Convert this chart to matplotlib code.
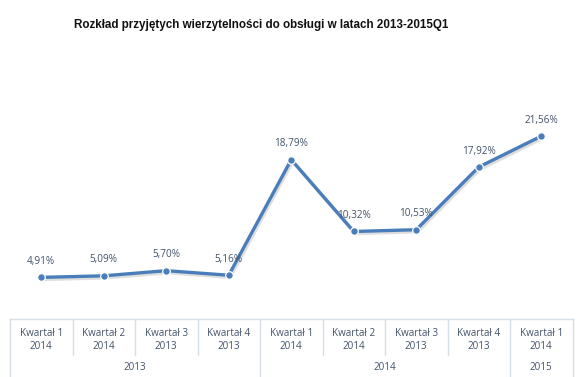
import matplotlib
matplotlib.use("Agg")
import matplotlib.pyplot as plt
import matplotlib.transforms as mtransforms
import matplotlib.patheffects as pe

title = "Rozkład przyjętych wierzytelności do obsługi w latach 2013-2015Q1"
quarters = ["Kwartał 1", "Kwartał 2", "Kwartał 3", "Kwartał 4",
            "Kwartał 1", "Kwartał 2", "Kwartał 3", "Kwartał 4", "Kwartał 1"]
sub_years = ["2014", "2014", "2013", "2013", "2014", "2014", "2013", "2013", "2014"]
groups = ["2013", "2014", "2015"]
group_sizes = [4, 4, 1]
values = [4.91, 5.09, 5.70, 5.16, 18.79, 10.32, 10.53, 17.92, 21.56]
labels = ["4,91%", "5,09%", "5,70%", "5,16%", "18,79%", "10,32%", "10,53%", "17,92%", "21,56%"]

W, H = 580, 377
fig = plt.figure(figsize=(W / 100, H / 100), dpi=100)
fig.patch.set_facecolor("white")
ax = fig.add_axes([10 / W, (H - 319) / H, 562.5 / W, (319 - 107) / H])
ax.set_xlim(-0.5, len(values) - 0.5)
ax.set_ylim(0, 25)
ax.axis("off")

line_col = "#4a7ebb"
x = list(range(len(values)))
ax.plot(x, values, color=line_col, lw=2.4, solid_joinstyle="round",
        path_effects=[pe.SimpleLineShadow(offset=(1, -1.5), alpha=0.25, shadow_color="#7f7f7f"), pe.Normal()],
        zorder=3)
ax.plot(x, values, linestyle="none", marker="o", ms=5.5, mfc=line_col, mec="white", mew=0.9, zorder=4)

txt_col = "#44546a"
for xi, v, lab in zip(x, values, labels):
    ax.annotate(lab, (xi, v), xytext=(0, 7.5), textcoords="offset points",
                ha="center", va="bottom", fontsize=7.2, color=txt_col, family="Open Sans")

fig.text(261 / W, (H - 25) / H, title, ha="center", va="center", fontsize=8.4,
         fontweight="bold", family="Liberation Sans", color="#111111")

# category axis table
trans = mtransforms.blended_transform_factory(ax.transData, fig.transFigure)
sep_col = "#d6dee8"
def fy(py):
    return (H - py) / H

n = len(values)
ax.plot([-0.5, n - 0.5], [fy(319)] * 2, transform=trans, color=sep_col, lw=1, clip_on=False)
bounds = [-0.5]
acc = -0.5
for s in group_sizes:
    acc += s
    bounds.append(acc)
for i in range(n + 1):
    xb = i - 0.5
    bottom = 377 if xb in bounds else 355
    ax.plot([xb, xb], [fy(319), fy(bottom)], transform=trans, color=sep_col, lw=1, clip_on=False)

for xi, q, yr in zip(x, quarters, sub_years):
    ax.text(xi, fy(333), q, transform=trans, ha="center", va="center", fontsize=7.1,
            color=txt_col, family="Open Sans")
    ax.text(xi, fy(346.5), yr, transform=trans, ha="center", va="center", fontsize=7.1,
            color=txt_col, family="Open Sans")

start = -0.5
for g, s in zip(groups, group_sizes):
    ax.text(start + s / 2, fy(367.5), g, transform=trans, ha="center", va="center", fontsize=7.1,
            color=txt_col, family="Open Sans")
    start += s

fig.savefig("out.png", dpi=100, facecolor="white")
